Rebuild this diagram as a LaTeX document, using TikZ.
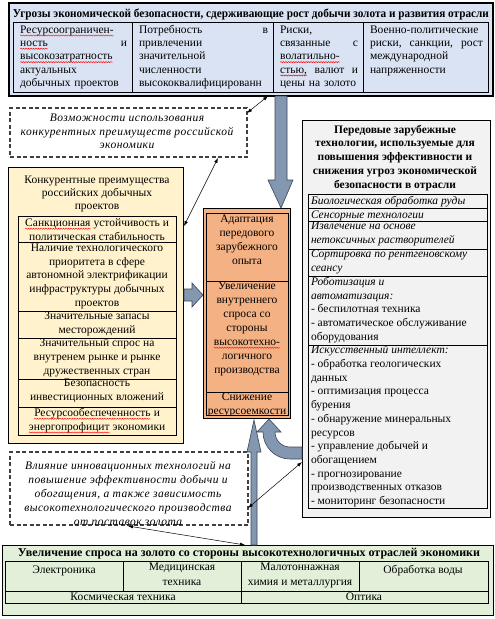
\documentclass[tikz,border=0pt]{standalone}
\usepackage{fontspec}
\setmainfont{Liberation Serif}
\usetikzlibrary{arrows.meta,calc,decorations.pathmorphing}
\definecolor{topfill}{HTML}{DAE3F3}
\definecolor{yelfill}{HTML}{FFF2CC}
\definecolor{orfill}{HTML}{F4B183}
\definecolor{greyfill}{HTML}{F2F2F2}
\definecolor{grnfill}{HTML}{E2EFD9}
\definecolor{arrfill}{HTML}{8497B0}
\definecolor{arredge}{HTML}{3C4658}
\definecolor{dashcol}{HTML}{404040}
\newcommand\spell[1]{\tikz[baseline=(w.base)]{\node[text width=,align=none,anchor=base,inner sep=0pt,outer sep=0pt,execute at begin node=] (w) {#1};\draw[red,line width=0.45pt,decorate,decoration={snake,amplitude=0.55pt,segment length=2.5pt}] ([yshift=-2.2pt]w.base west) -- ([yshift=-2.2pt]w.base east);}}
\begin{document}
\begin{tikzpicture}[x=1pt,y=-1pt,
  every node/.style={inner sep=0pt,outer sep=0pt},
  font=\fontsize{11.5}{13.7}\selectfont,
  frame/.style={draw=black,line width=0.9pt,anchor=north west},
  cell/.style={draw=black,line width=0.6pt,anchor=north west},
  ltext/.style={anchor=north west,align=left,execute at begin node=\strut},
  ctext/.style={anchor=north,align=center,execute at begin node=\strut},
  dbox/.style={draw=dashcol,dash pattern=on 4pt off 2.5pt,line width=1.3pt,fill=white,anchor=north west},
  dtext/.style={ctext,font=\fontsize{11.5}{13.5}\selectfont\itshape\addfontfeature{LetterSpace=4}},
  blockarrow/.style={fill=arrfill,draw=arredge,line width=0.6pt,line join=miter},
  link/.style={draw=black,line width=0.5pt,{Latex[length=5pt,width=3.5pt]}-{Latex[length=5pt,width=3.5pt]}}
]
\fill[white] (0,0) rectangle (495,619);
\useasboundingbox (0,0) rectangle (495,619);

% ---------- top box ----------
\node[frame,fill=topfill,line width=1.2pt,minimum width=484pt,minimum height=93pt] (top) at (9,3) {};
\node[font=\fontsize{12}{13}\selectfont\bfseries] (toptitle) at (251,14) {\resizebox{476pt}{\height}{Угрозы экономической безопасности, сдерживающие рост добычи золота и развития отрасли}};
\node[cell,minimum width=119pt,minimum height=70pt] (t1) at (13,22) {};
\node[cell,minimum width=141pt,minimum height=70pt] (t2) at (132,22) {};
\node[cell,minimum width=90pt,minimum height=70pt] (t3) at (273,22) {};
\node[cell,minimum width=125pt,minimum height=70pt] (t4) at (363,22) {};
\begin{scope}[font=\fontsize{11.5}{13.3}\selectfont]
\node[ltext,text width=107pt] (t1x) at (20,24) {\spell{Ресурсоограничен-}\\\spell{ность}\hfill и\\\spell{высокозатратность}\\актуальных\\добычных проектов};
\begin{scope}
\clip (t2.north west) rectangle (t2.south east);
\node[ltext,text width=129pt] (t2x) at (139,24) {Потребность\hfill в\\привлечении\\значительной\\численности\\высококвалифицированн};
\end{scope}
\node[ltext,text width=78pt] (t3x) at (280,24) {Риски,\\связанные\hfill с\\\spell{волатильно-}\\\spell{стью,}\hfill валют\hfill и\\цены на золото};
\node[ltext,text width=113pt] (t4x) at (370,24) {Военно-политические\\риски,\hfill санкции,\hfill рост\\международной\\напряженности};
\end{scope}

% ---------- dashed box 1 ----------
\node[dbox,minimum width=237pt,minimum height=49pt] (d1) at (10,108) {};
\node[dtext] (d1x) at (127,114) {Возможности использования\\конкурентных преимуществ российской\\экономики};

% ---------- left box ----------
\node[frame,fill=yelfill,minimum width=175pt,minimum height=276pt] (lb) at (8,167) {};
\node[ctext,font=\fontsize{11.5}{13}\selectfont] (lbt) at (97,176) {Конкурентные преимущества\\российских добычных\\проектов};
\node[cell,minimum width=158pt,minimum height=26pt] (l1) at (18,216) {};
\node[cell,minimum width=158pt,minimum height=69pt] (l2) at (18,242) {};
\node[cell,minimum width=158pt,minimum height=27pt] (l3) at (18,311) {};
\node[cell,minimum width=158pt,minimum height=41pt] (l4) at (18,338) {};
\node[cell,minimum width=158pt,minimum height=28pt] (l5) at (18,379) {};
\node[cell,minimum width=158pt,minimum height=28pt] (l6) at (18,407) {};
\node[ctext] (l1x) at (97,217) {\spell{Санкционная} устойчивость и\\политическая стабильность};
\node[ctext] (l2x) at (97,244) {Наличие технологического\\приоритета в сфере\\автономной электрификации\\инфраструктуры добычных\\проектов};
\node[ctext] (l3x) at (97,312) {Значительные запасы\\месторождений};
\node[ctext] (l4x) at (97,339) {Значительный спрос на\\внутренем рынке и рынке\\дружественных стран};
\node[ctext] (l5x) at (97,379) {Безопасность\\инвестиционных вложений};
\node[ctext] (l6x) at (97,407) {\spell{Ресурсообеспеченность} и\\\spell{энергопрофицит} экономики};

% ---------- orange box ----------
\node[frame,fill=orfill,minimum width=87pt,minimum height=210pt] (ob) at (203,208) {};
\node[cell,minimum width=82pt,minimum height=68pt] (o1) at (206,213) {};
\node[cell,minimum width=82pt,minimum height=111pt] (o2) at (206,281) {};
\node[cell,minimum width=82pt,minimum height=23pt] (o3) at (206,392) {};
\begin{scope}[font=\fontsize{11.5}{14}\selectfont]
\node[ctext] (o1x) at (247,215) {Адаптация\\передового\\зарубежного\\опыта};
\node[ctext] (o2x) at (247,282) {Увеличение\\внутреннего\\спроса со\\стороны\\\spell{высокотехно-}\\логичного\\производства};
\begin{scope}
\clip (o3.north west) rectangle (o3.south east);
\node[ctext] (o3x) at (247,393) {Снижение\\ресурсоемкости};
\end{scope}
\end{scope}

% ---------- grey box ----------
\node[frame,fill=greyfill,minimum width=188pt,minimum height=397pt] (gb) at (302,120) {};
\node[ctext,font=\fontsize{11.5}{13.7}\selectfont\bfseries] (gbt) at (395,125) {Передовые зарубежные\\технологии, используемые для\\повышения эффективности и\\снижения угроз экономической\\безопасности в отрасли};
\node[cell,minimum width=179pt,minimum height=14pt] (g1) at (308,194) {};
\node[cell,minimum width=179pt,minimum height=13.5pt] (g2) at (308,208) {};
\node[cell,minimum width=179pt,minimum height=27.5pt] (g3) at (308,221.5) {};
\node[cell,minimum width=179pt,minimum height=27pt] (g4) at (308,249) {};
\node[cell,minimum width=179pt,minimum height=69pt] (g5) at (308,276) {};
\node[cell,minimum width=179pt,minimum height=163pt] (g6) at (308,345) {};
\node[ltext] (g1x) at (311,195) {\itshape Биологическая обработка руды};
\node[ltext] (g2x) at (311,208.7) {\itshape Сенсорные технологии};
\node[ltext] (g3x) at (311,222.4) {\itshape Извлечение на основе\\\itshape нетоксичных растворителей};
\node[ltext] (g4x) at (311,249.8) {\itshape Сортировка по рентгеновскому\\\itshape сеансу};
\node[ltext] (g5x) at (311,277.2) {\itshape Роботизация и\\\itshape автоматизация:\\- беспилотная техника\\- автоматическое обслуживание\\оборудования};
\node[ltext] (g6x) at (311,345.7) {\itshape Искусственный интеллект:\\- обработка геологических\\данных\\- оптимизация процесса\\бурения\\- обнаружение минеральных\\ресурсов\\- управление добычей и\\обогащением\\- прогнозирование\\производственных отказов\\- мониторинг безопасности};

% ---------- dashed box 2 ----------
\node[dbox,minimum width=238pt,minimum height=73pt] (d2) at (10,452) {};
\begin{scope}
\clip (d2.north west) rectangle (d2.south east);
\node[dtext,font=\fontsize{11.5}{14.2}\selectfont\itshape\addfontfeature{LetterSpace=4}] (d2x) at (128,461) {Влияние инновационных технологий на\\повышение эффективности добычи и\\обогащения, а также зависимость\\высокотехнологического производства\\от поставок золота};
\end{scope}

% ---------- bottom box ----------
\node[frame,fill=grnfill,minimum width=491pt,minimum height=70pt] (bb) at (2,545) {};
\node[font=\fontsize{12}{13}\selectfont\bfseries] (bbt) at (249,554) {\resizebox{462pt}{\height}{Увеличение спроса на золото со стороны высокотехнологичных отраслей экономики}};
\node[cell,minimum width=118pt,minimum height=30pt] (b1) at (5,561) {};
\node[cell,minimum width=118pt,minimum height=30pt] (b2) at (123,561) {};
\node[cell,minimum width=118pt,minimum height=30pt] (b3) at (241,561) {};
\node[cell,minimum width=129pt,minimum height=30pt] (b4) at (359,561) {};
\node[cell,minimum width=236pt,minimum height=12pt] (b5) at (5,591) {};
\node[cell,minimum width=247pt,minimum height=12pt] (b6) at (241,591) {};
\begin{scope}[font=\fontsize{11.5}{14.5}\selectfont]
\node[ctext] (b1x) at (64,563) {Электроника};
\node[ctext] (b2x) at (182,563) {Медицинская\\техника};
\node[ctext] (b3x) at (300,563) {Малотоннажная\\химия и металлургия};
\node[ctext] (b4x) at (423,563) {Обработка воды};
\node[ctext] (b5x) at (123,590.5) {Космическая техника};
\node[ctext] (b6x) at (364,590.5) {Оптика};
\end{scope}

% ---------- block arrows ----------
\draw[blockarrow] (275,96) -- (275,180) -- (268,180) -- (281,208) -- (293,180) -- (287,180) -- (287,96) -- cycle;
\draw[blockarrow] (184,289) -- (192,289) -- (192,283) -- (203,295) -- (192,307) -- (192,301) -- (184,301) -- cycle;
\draw[blockarrow] (251,545) -- (251,452) -- (247,452) -- (254,420) -- (261,452) -- (257,452) -- (257,545) -- cycle;
\draw[blockarrow] (302,459) -- (290,459) arc[start angle=90,end angle=180,radius=27] -- (257,432) -- (269,419) -- (281,432) -- (275,432) arc[start angle=180,end angle=90,radius=15] -- (302,447) -- cycle;

% ---------- thin links ----------
\coordinate (c1) at (268,96);
\coordinate (c2) at (184,226);
\coordinate (c3) at (245,545);
\coordinate (c4) at (302,462);
\draw[link] ($(d1.north east)+(0,5)$) -- (c1);
\draw[link] ($(d1.south west)+(208,1)$) -- (c2);
\draw[link] ($(d2.south west)+(118,1)$) -- (c3);
\draw[link] ($(d2.north east)+(0,56)$) -- (c4);
\end{tikzpicture}
\end{document}
